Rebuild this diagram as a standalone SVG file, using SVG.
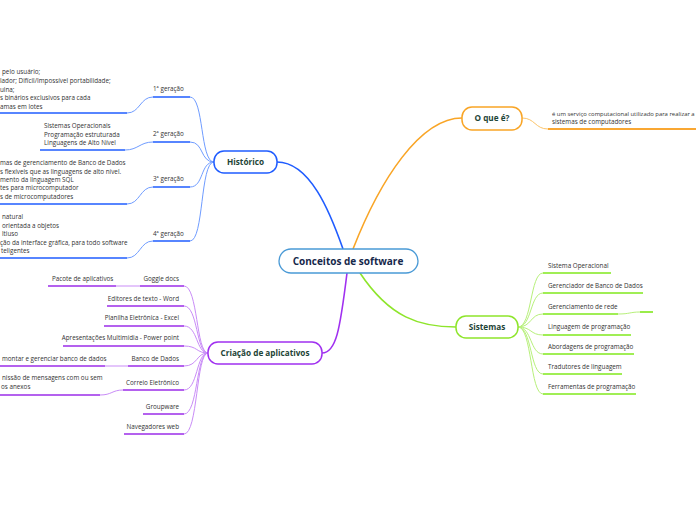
<svg xmlns="http://www.w3.org/2000/svg" width="696" height="520" viewBox="0 0 696 520">
<style>
.t{font-family:"Open Sans","Noto Sans","Liberation Sans",sans-serif;font-size:6.3px;fill:#333}
.r{text-anchor:end}
.n{font-family:"Open Sans","Noto Sans","Liberation Sans",sans-serif;font-weight:bold;font-size:8.2px;fill:#1d4436;text-anchor:middle}
.c{fill:none}
.bl{stroke:#6f9cff;stroke-width:1}
.bu{stroke:#1f5cff;stroke-width:1.6}
.ol{stroke:#fcc46a;stroke-width:1}
.ou{stroke:#f9a733;stroke-width:1.8}
.gl{stroke:#b7f07a;stroke-width:1}
.gu{stroke:#80e81c;stroke-width:1.6}
.pl{stroke:#c98cf7;stroke-width:1}
.pu{stroke:#9b2ce8;stroke-width:1.6}
</style>
<rect width="696" height="520" fill="#fff"/>
<g id="connectors" class="c">
<path d="M343,249 C330,212 310,162 277,162" stroke="#1f5cff" stroke-width="1.6"/>
<path d="M353,249 C380,180 420,118 462,118" stroke="#f9a526" stroke-width="1.6"/>
<path d="M360,273 C390,318 420,327 456,327" stroke="#8ee52b" stroke-width="1.6"/>
<path d="M347,273 C340,330 336,353 322,353" stroke="#a030f0" stroke-width="1.6"/>
<path class="bl" d="M214,162 C200,162 204,97 190,97"/>
<path class="bl" d="M214,162 C200,162 204,142 190,142"/>
<path class="bl" d="M214,162 C200,162 204,187 190,187"/>
<path class="bl" d="M214,162 C200,162 204,241 190,241"/>
<path class="bl" d="M127,113 C140,113 140,97 153,97"/>
<path class="bl" d="M125,150 C138,150 140,142 153,142"/>
<path class="bl" d="M127,204 C140,204 140,187 153,187"/>
<path class="bl" d="M127,258 C140,258 140,241 153,241"/>
<path class="ol" d="M522,118 C535,118 535,129 548,129"/>
<path class="gl" d="M518,327 C532,327 530,273 543,273"/>
<path class="gl" d="M518,327 C532,327 530,293 543,293"/>
<path class="gl" d="M518,327 C532,327 530,314 543,314"/>
<path class="gl" d="M518,327 C532,327 530,335 543,335"/>
<path class="gl" d="M518,327 C532,327 530,354 543,354"/>
<path class="gl" d="M518,327 C532,327 530,374 543,374"/>
<path class="gl" d="M518,327 C532,327 530,394 543,394"/>
<path class="gl" d="M618,314 C630,314 630,312 640,312"/>
<path class="pl" d="M208,353 C196,353 198,286 184,286"/>
<path class="pl" d="M208,353 C196,353 198,306 184,306"/>
<path class="pl" d="M208,353 C196,353 198,326 184,326"/>
<path class="pl" d="M208,353 C196,353 198,346 184,346"/>
<path class="pl" d="M208,353 C196,353 198,366 184,366"/>
<path class="pl" d="M208,353 C196,353 198,390 184,390"/>
<path class="pl" d="M208,353 C196,353 198,414 184,414"/>
<path class="pl" d="M208,353 C196,353 198,434 184,434"/>
<path class="pl" d="M116,286 L140,286"/>
<path class="pl" d="M105,366 L128,366"/>
<path class="pl" d="M100,395 C112,395 112,390 123,390"/>
</g>
<g id="center">
<rect x="279" y="249" width="139" height="24" rx="12" fill="#fff" stroke="#4a9ad6" stroke-width="1.3"/>
<text x="348" y="265" class="n" style="font-size:10px;fill:#16284b">Conceitos de software</text>
</g>
<g id="historico">
<rect x="214" y="151" width="63" height="22" rx="10" fill="#fff" stroke="#1f5cff" stroke-width="1.5"/>
<text x="245.5" y="165" class="n">Histórico</text>
</g>
<g id="oque">
<rect x="462" y="107" width="60" height="23" rx="10" fill="#fff" stroke="#f9a526" stroke-width="1.5"/>
<text x="492" y="121" class="n">O que é?</text>
</g>
<g id="sistemas">
<rect x="456" y="316" width="62" height="22" rx="10" fill="#fff" stroke="#8ee52b" stroke-width="1.5"/>
<text x="487" y="330" class="n">Sistemas</text>
</g>
<g id="criacao">
<rect x="208" y="342" width="114" height="22" rx="10" fill="#fff" stroke="#a030f0" stroke-width="1.5"/>
<text x="265" y="356" class="n">Criação de aplicativos</text>
</g>
<g id="g1">
<line class="bu" x1="153" y1="97" x2="190" y2="97"/>
<text x="153" y="91" class="t">1ª geração</text>
</g>
<g id="g1-d">
<line class="bu" x1="0" y1="113" x2="127" y2="113"/>
<text x="2" y="74" class="t">pelo usuário;</text>
<text x="0" y="83" class="t">lador; Difícil/Impossível portabilidade;</text>
<text x="0" y="92" class="t">uina;</text>
<text x="0" y="100" class="t">s binários exclusivos para cada</text>
<text x="0" y="109" class="t">amas em lotes</text>
</g>
<g id="g2">
<line class="bu" x1="153" y1="142" x2="190" y2="142"/>
<text x="153" y="136" class="t">2ª geração</text>
</g>
<g id="g2-d">
<line class="bu" x1="40" y1="150" x2="125" y2="150"/>
<text x="44" y="128" class="t">Sistemas Operacionais</text>
<text x="44" y="137" class="t">Programação estruturada</text>
<text x="44" y="145" class="t">Linguagens de Alto Nível</text>
</g>
<g id="g3">
<line class="bu" x1="153" y1="187" x2="190" y2="187"/>
<text x="153" y="181" class="t">3ª geração</text>
</g>
<g id="g3-d">
<line class="bu" x1="0" y1="204" x2="127" y2="204"/>
<text x="0" y="165" class="t">mas de gerenciamento de Banco de Dados</text>
<text x="0" y="174" class="t">s flexíveis que as linguagens de alto nível.</text>
<text x="0" y="182" class="t">mento da linguagem SQL</text>
<text x="0" y="190" class="t">tes para microcomputador</text>
<text x="0" y="199" class="t">s de microcomputadores</text>
</g>
<g id="g4">
<line class="bu" x1="153" y1="241" x2="190" y2="241"/>
<text x="153" y="236" class="t">4ª geração</text>
</g>
<g id="g4-d">
<line class="bu" x1="0" y1="258" x2="127" y2="258"/>
<text x="2" y="219" class="t">natural</text>
<text x="2" y="228" class="t">orientada a objetos</text>
<text x="2" y="236" class="t">ltiuso</text>
<text x="0" y="245" class="t">ção da interface gráfica, para todo software</text>
<text x="1" y="253" class="t">teligentes</text>
</g>
<g id="oque-d">
<line class="ou" x1="548" y1="129" x2="696" y2="129"/>
<text x="552" y="116" class="t" style="font-size:5.9px">é um serviço computacional utilizado para realizar a</text>
<text x="552" y="124" class="t">sistemas de computadores</text>
</g>
<g id="s1"><line class="gu" x1="543" y1="273" x2="611" y2="273"/><text x="548" y="268" class="t">Sistema Operacional</text></g>
<g id="s2"><line class="gu" x1="543" y1="293" x2="643" y2="293"/><text x="548" y="288" class="t">Gerenciador de Banco de Dados</text></g>
<g id="s3"><line class="gu" x1="543" y1="314" x2="618" y2="314"/><text x="548" y="309" class="t">Gerenciamento de rede</text></g>
<g id="s3-e"><line class="gu" x1="640" y1="312" x2="653" y2="312"/></g>
<g id="s4"><line class="gu" x1="543" y1="335" x2="631" y2="335"/><text x="548" y="329" class="t">Linguagem de programação</text></g>
<g id="s5"><line class="gu" x1="543" y1="354" x2="634" y2="354"/><text x="548" y="349" class="t">Abordagens de programação</text></g>
<g id="s6"><line class="gu" x1="543" y1="374" x2="622" y2="374"/><text x="548" y="369" class="t">Tradutores de linguagem</text></g>
<g id="s7"><line class="gu" x1="543" y1="394" x2="636" y2="394"/><text x="548" y="389" class="t">Ferramentas de programação</text></g>
<g id="c1"><line class="pu" x1="140" y1="286" x2="184" y2="286"/><text x="179" y="281" class="t r">Goggle docs</text></g>
<g id="c1-d"><line class="pu" x1="48" y1="286" x2="116" y2="286"/><text x="52" y="281" class="t">Pacote de aplicativos</text></g>
<g id="c2"><line class="pu" x1="107" y1="306" x2="184" y2="306"/><text x="179" y="301" class="t r">Editores de texto - Word</text></g>
<g id="c3"><line class="pu" x1="104" y1="326" x2="184" y2="326"/><text x="179" y="320" class="t r">Planilha Eletrônica - Excel</text></g>
<g id="c4"><line class="pu" x1="63" y1="346" x2="184" y2="346"/><text x="179" y="340" class="t r">Apresentações Multimídia - Power point</text></g>
<g id="c5"><line class="pu" x1="128" y1="366" x2="184" y2="366"/><text x="179" y="361" class="t r">Banco de Dados</text></g>
<g id="c5-d"><line class="pu" x1="0" y1="366" x2="105" y2="366"/><text x="2" y="361" class="t">montar e gerenciar banco de dados</text></g>
<g id="c6"><line class="pu" x1="123" y1="390" x2="184" y2="390"/><text x="179" y="385" class="t r">Correio Eletrônico</text></g>
<g id="c6-d"><line class="pu" x1="0" y1="395" x2="100" y2="395"/><text x="2" y="380" class="t">nissão de mensagens com ou sem</text><text x="1" y="389" class="t">os anexos</text></g>
<g id="c7"><line class="pu" x1="143" y1="414" x2="184" y2="414"/><text x="179" y="409" class="t r">Groupware</text></g>
<g id="c8"><line class="pu" x1="124" y1="434" x2="184" y2="434"/><text x="179" y="429" class="t r">Navegadores web</text></g>
</svg>
